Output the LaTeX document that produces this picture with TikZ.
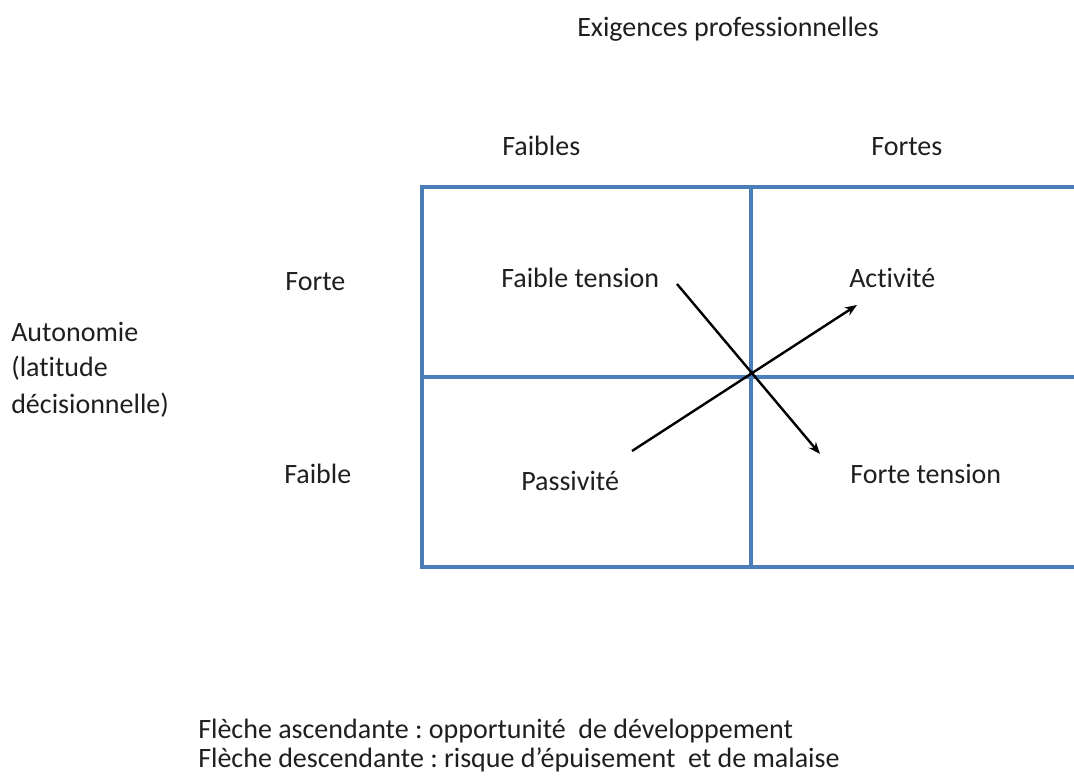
\documentclass[tikz,border=0pt]{standalone}
\usepackage{fontspec}
\setmainfont{Carlito}[Ligatures=NoCommon]
\usetikzlibrary{arrows.meta}
\definecolor{gridblue}{HTML}{4A7EBB}
\frenchspacing
\tikzset{
  lbl/.style={anchor=base west, inner sep=0pt, font=\fontsize{21}{26}\selectfont, text=black!88},
  gridline/.style={draw=gridblue, line width=2.4pt},
  arr/.style={draw=black, line width=1.8pt, -{Stealth[length=9pt,width=7pt]}}
}
\begin{document}
\begin{tikzpicture}[x=0.75pt,y=-0.75pt]
\useasboundingbox (0,0) rectangle (1074,780);
\fill[white] (0,0) rectangle (1074,780);
% grid
\coordinate (tl) at (422,187);
\coordinate (tr) at (1074,187);
\coordinate (ml) at (422,377);
\coordinate (mr) at (1074,377);
\coordinate (bl) at (422,567);
\coordinate (br) at (1074,567);
\coordinate (tm) at (751,187);
\coordinate (bm) at (751,567);
\draw[gridline] (tr) -- (tl) -- (bl) -- (br);
\draw[gridline] (ml) -- (mr);
\draw[gridline] (tm) -- (bm);
% labels
\node[lbl] (exig) at (577,37) {Exigences professionnelles};
\node[lbl] (faibles) at (502,156) {Faibles};
\node[lbl] (fortes) at (871,156) {Fortes};
\node[lbl] (forte) at (285,291) {Forte};
\node[lbl] (faible) at (284,483) {Faible};
\node[lbl] (auto1) at (11,342) {Autonomie};
\node[lbl] (auto2) at (11,377) {(latitude};
\node[lbl] (auto3) at (11,413) {décisionnelle)};
\node[lbl] (ft) at (501,288) {Faible tension};
\node[lbl] (act) at (849,288) {Activité};
\node[lbl] (pas) at (521,490) {Passivité};
\node[lbl] (fot) at (850,483) {Forte tension};
\node[lbl] (leg1) at (198,738) {Flèche ascendante : opportunité\ \ de développement};
\node[lbl] (leg2) at (198,767) {Flèche descendante : risque d’épuisement\ \ et de malaise};
% arrows
\coordinate (upstart) at (632,451);
\coordinate (upend) at (857,305);
\coordinate (downstart) at (677,284);
\coordinate (downend) at (820,454);
\draw[arr] (upstart) -- (upend);
\draw[arr] (downstart) -- (downend);
\end{tikzpicture}
\end{document}
